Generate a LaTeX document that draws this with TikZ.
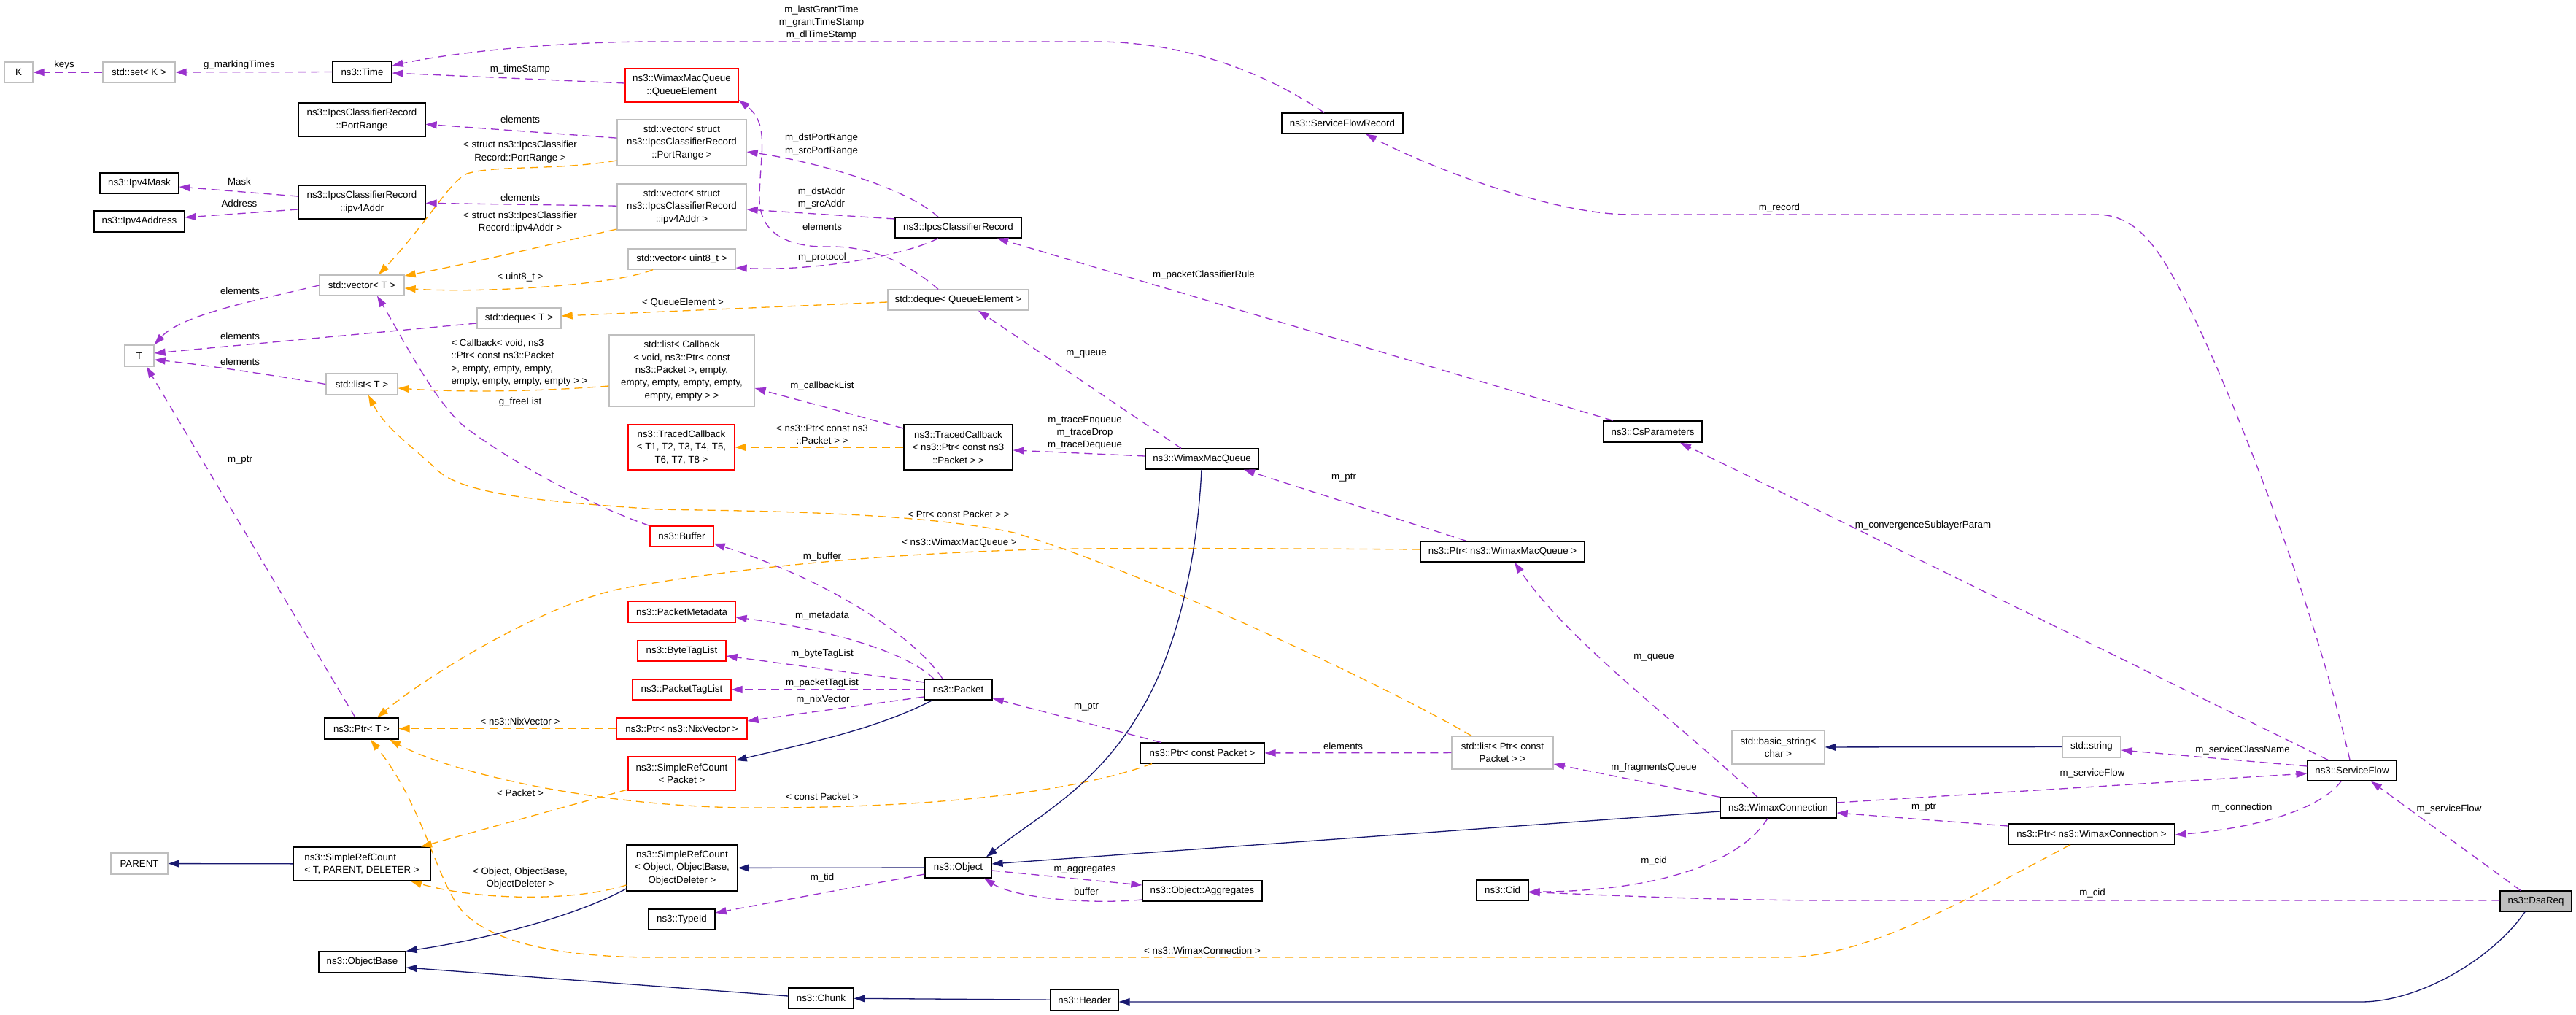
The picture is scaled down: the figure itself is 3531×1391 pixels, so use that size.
\documentclass[tikz,border=0pt]{standalone}
\usepackage{fontspec}
\setmainfont{Liberation Sans}
\usetikzlibrary{arrows.meta,calc}
\definecolor{purp}{HTML}{9A32CD}
\definecolor{orng}{HTML}{FFA500}
\definecolor{mblue}{HTML}{191970}
\definecolor{grey75}{HTML}{BFBFBF}
\newcommand\fsz{\fontsize{13.3}{17.3}\selectfont}
\tikzset{
  box/.style={rectangle, inner sep=0pt, line width=1.3pt, align=center, font=\fsz, fill=white},
  cls/.style={box, draw=black},
  ext/.style={box, draw=grey75},
  trunc/.style={box, draw=red},
  sz/.style 2 args={minimum width=#1pt, minimum height=#2pt},
  lbl/.style={font=\fsz, inner sep=0pt, align=center},
  tipA/.style={-{Triangle[length=15pt,width=10pt]}},
  use/.style={draw=purp, line width=1.3pt, dash pattern=on 11pt off 7pt, tipA},
  tmpl/.style={draw=orng, line width=1.3pt, dash pattern=on 11pt off 7pt, tipA},
  inh/.style={draw=mblue, line width=1.3pt, tipA},
}
\begin{document}
\begin{tikzpicture}[x=1pt,y=-1pt]
\useasboundingbox[fill=white] (0,0) rectangle (3531,1391);
% ---------------- nodes ----------------
\node[ext, sz={39}{28}] (K) at (25.5,99) {K};
\node[ext, sz={99}{28}] (setK) at (190.5,99) {std::set< K >};
\node[cls, sz={81}{29}] (Time) at (496.5,98.5) {ns3::Time};
\node[cls, sz={174}{46}] (PortRange) at (496,164) {ns3::IpcsClassifierRecord\\::PortRange};
\node[cls, sz={108}{28}] (Mask) at (191,251) {ns3::Ipv4Mask};
\node[cls, sz={124}{29}] (Addr) at (191,303.5) {ns3::Ipv4Address};
\node[cls, sz={174}{46}] (IA) at (496,277) {ns3::IpcsClassifierRecord\\::ipv4Addr};
\node[ext, sz={116}{28}] (vecT) at (496,391) {std::vector< T >};
\node[ext, sz={115}{28}] (dqT) at (711.5,436) {std::deque< T >};
\node[trunc, sz={155}{46}] (QE) at (934.5,117) {ns3::WimaxMacQueue\\::QueueElement};
\node[ext, sz={177}{63}] (vecPR) at (934.5,195.5) {std::vector< struct\\ns3::IpcsClassifierRecord\\::PortRange >};
\node[ext, sz={177}{63}] (vecIA) at (934.5,283.5) {std::vector< struct\\ns3::IpcsClassifierRecord\\::ipv4Addr >};
\node[ext, sz={147}{28}] (vecU8) at (934.5,355) {std::vector< uint8\_t >};
\node[cls, sz={173}{28}] (ICR) at (1313.5,312) {ns3::IpcsClassifierRecord};
\node[ext, sz={193}{28}] (dqQE) at (1313.5,411) {std::deque< QueueElement >};
\node[ext, sz={199}{98}] (listCB) at (934.5,508) {std::list< Callback\\< void, ns3::Ptr< const\\ns3::Packet >, empty,\\empty, empty, empty, empty,\\empty, empty > >};
\node[cls, sz={166}{28}] (SFR) at (1840,169) {ns3::ServiceFlowRecord};
\node[trunc, sz={146}{62}] (TCT) at (934,613) {ns3::TracedCallback\\< T1, T2, T3, T4, T5,\\T6, T7, T8 >};
\node[cls, sz={149}{62}] (TCP) at (1313.5,613) {ns3::TracedCallback\\< ns3::Ptr< const ns3\\::Packet > >};
\node[cls, sz={155}{28}] (WMQ) at (1647.5,629) {ns3::WimaxMacQueue};
\node[trunc, sz={87}{28}] (Buffer) at (934.5,735) {ns3::Buffer};
\node[trunc, sz={147}{29}] (PMD) at (934.5,838.5) {ns3::PacketMetadata};
\node[trunc, sz={121}{28}] (BTL) at (934.5,892) {ns3::ByteTagList};
\node[cls, sz={135}{29}] (CsP) at (2265.5,591.5) {ns3::CsParameters};
\node[cls, sz={225}{28}] (PtrWMQ) at (2059.5,756) {ns3::Ptr< ns3::WimaxMacQueue >};
\node[ext, sz={40}{29}] (T) at (191,487.5) {T};
\node[ext, sz={98}{29}] (listT) at (496,526.5) {std::list< T >};
\node[cls, sz={101}{29}] (PtrT) at (495.5,998.5) {ns3::Ptr< T >};
\node[ext, sz={78}{29}] (PARENT) at (191,1183.5) {PARENT};
\node[cls, sz={188}{46}, align=left] (SRCT) at (496,1184) {ns3::SimpleRefCount\\< T, PARENT, DELETER >};
\node[cls, sz={119}{29}] (OB) at (496.5,1318.5) {ns3::ObjectBase};
\node[trunc, sz={135}{28}] (PTL) at (934.5,945) {ns3::PacketTagList};
\node[trunc, sz={179}{29}] (PtrNix) at (934.5,998.5) {ns3::Ptr< ns3::NixVector >};
\node[trunc, sz={147}{46}] (SRCPk) at (934.5,1060) {ns3::SimpleRefCount\\< Packet >};
\node[cls, sz={93}{28}] (Packet) at (1313.5,945) {ns3::Packet};
\node[cls, sz={170}{28}] (PtrCP) at (1648,1032) {ns3::Ptr< const Packet >};
\node[cls, sz={152}{63}] (SRCObj) at (935,1189.5) {ns3::SimpleRefCount\\< Object, ObjectBase,\\ObjectDeleter >};
\node[cls, sz={91}{28}] (Obj) at (1313.5,1189) {ns3::Object};
\node[cls, sz={164}{28}] (Agg) at (1648,1221) {ns3::Object::Aggregates};
\node[cls, sz={91}{28}] (TypeId) at (934.5,1260) {ns3::TypeId};
\node[cls, sz={89}{28}] (Chunk) at (1125.5,1368) {ns3::Chunk};
\node[cls, sz={93}{29}] (Header) at (1486.5,1370.5) {ns3::Header};
\node[ext, sz={139}{45}] (listPCP) at (2059.5,1031.5) {std::list< Ptr< const\\Packet > >};
\node[ext, sz={127}{46}] (bstr) at (2437.5,1024) {std::basic\_string<\\char >};
\node[cls, sz={159}{28}] (WC) at (2437.5,1107) {ns3::WimaxConnection};
\node[cls, sz={71}{28}] (Cid) at (2059.5,1220) {ns3::Cid};
\node[ext, sz={80}{29}] (str) at (2867,1023.5) {std::string};
\node[cls, sz={122}{28}] (SF) at (3224,1056) {ns3::ServiceFlow};
\node[cls, sz={228}{28}] (PtrWC) at (2867,1143) {ns3::Ptr< ns3::WimaxConnection >};
\node[cls, sz={98}{28}, fill=grey75] (DsaReq) at (3476,1235) {ns3::DsaReq};
% ---------------- edges ----------------
\draw[use] (setK) -- (K);
\draw[use] (Time) -- (setK);
\draw[use] (SFR.north -| 1815,0) .. controls (1750,110) and (1640,57) .. (1500,57) -- (900,57) .. controls (760,57) and (620,72) .. (Time.east |- 0,90);
\draw[use] (QE.west |- 0,114) -- (Time.east |- 0,100);
\draw[use] (vecPR) -- (PortRange);
\draw[tmpl] (vecPR.west |- 0,220) .. controls (760,234) and (680,226) .. (640,238) .. controls (615,250) and (590,300) .. (vecT.north -| 519,0);
\draw[use] (vecIA) -- (IA);
\draw[tmpl] (vecIA.west |- 0,314) .. controls (746,337) and (640,362) .. (vecT.east |- 0,378);
\draw[use] (IA.west |- 0,269) -- (Mask.east |- 0,256);
\draw[use] (IA.west |- 0,287) -- (Addr.east |- 0,298);
\draw[tmpl] (vecU8.south -| 895,0) .. controls (840,392) and (650,402) .. (vecT.east |- 0,395);
\draw[use] (vecT.west) .. controls (360,410) and (250,430) .. (T.north east);
\draw[use] (dqT.west |- 0,443) -- (T.east |- 0,484);
\draw[use] (listT.west) .. controls (380,515) and (280,500) .. (T.east |- 0,493);
\draw[use] (PtrT.north -| 487,0) -- (T.south -| 201,0);
\draw[tmpl] (dqQE.west |- 0,414) -- (dqT.east |- 0,433);
\draw[use] (dqQE.north -| 1286,0) .. controls (1250,365) and (1200,338) .. (1140,338) .. controls (1080,340) and (1040,320) .. (1041,270) .. controls (1042,210) and (1055,170) .. (QE.east |- 0,137);
\draw[use] (ICR.north -| 1286,0) .. controls (1240,255) and (1110,220) .. (vecPR.east |- 0,208);
\draw[use] (ICR.west |- 0,300) -- (vecIA.east |- 0,287);
\draw[use] (ICR.south -| 1286,0) .. controls (1240,350) and (1120,372) .. (vecU8.east |- 0,367);
\draw[use] (CsP.north -| 2211,0) -- (ICR.south -| 1367,0);
\draw[use] (WMQ.north -| 1619,0) -- (dqQE.south -| 1341,0);
\draw[use] (TCP.west |- 0,587) -- (listCB.east |- 0,532);
\draw[tmpl] (TCP) -- (TCT);
\draw[use] (WMQ.west |- 0,625) -- (TCP.east |- 0,617);
\draw[tmpl] (listCB.west |- 0,529) .. controls (720,538) and (620,537) .. (listT.east |- 0,532);
\draw[tmpl] (listPCP.north -| 2017,0) .. controls (1900,940) and (1560,780) .. (1390,730) .. controls (1250,700) and (1000,700) .. (900,698) .. controls (760,688) and (640,680) .. (600,645) .. controls (570,615) and (530,590) .. (listT.south -| 505,0);
\draw[tmpl] (PtrWMQ.west |- 0,753) .. controls (1800,752) and (1600,751) .. (1481,752) .. controls (1300,754) and (1050,770) .. (850,807) .. controls (740,830) and (580,930) .. (PtrT.north -| 517,0);
\draw[use] (PtrWMQ.north -| 2010,0) -- (WMQ.south -| 1705,0);
\draw[use] (Buffer.north west) .. controls (800,690) and (680,620) .. (631,580) .. controls (590,540) and (550,460) .. (vecT.south -| 517,0);
\draw[use] (Packet.north -| 1292,0) .. controls (1260,880) and (1150,800) .. (Buffer.east |- 0,745);
\draw[use] (Packet.north -| 1280,0) .. controls (1240,890) and (1120,860) .. (PMD.east |- 0,846);
\draw[use] (Packet.west |- 0,935) -- (BTL.east |- 0,899);
\draw[use] (Packet) -- (PTL);
\draw[use] (Packet.west |- 0,955) -- (PtrNix.east |- 0,988);
\draw[tmpl] (PtrNix) -- (PtrT);
\draw[inh] (Packet.south -| 1278,0) .. controls (1200,1000) and (1100,1020) .. (SRCPk.east |- 0,1042);
\draw[tmpl] (SRCPk.west |- 0,1082) -- (SRCT.north -| 577,0);
\draw[tmpl] (PtrCP.south -| 1579,0) .. controls (1460,1090) and (1250,1108) .. (1022,1107) .. controls (820,1105) and (620,1060) .. (PtrT.south -| 534,0);
\draw[use] (PtrCP.north -| 1591,0) -- (Packet.east |- 0,957);
\draw[use] (listPCP) -- (PtrCP);
\draw[tmpl] (SRCObj.west |- 0,1213) .. controls (790,1235) and (660,1235) .. (SRCT.south -| 563,0);
\draw[inh] (SRCT) -- (PARENT);
\draw[inh] (SRCObj.west |- 0,1218) .. controls (780,1260) and (650,1290) .. (OB.north east);
\draw[inh] (Obj) -- (SRCObj);
\draw[use] (Obj.west |- 0,1198) -- (TypeId.east |- 0,1251);
\draw[use] (Obj.east |- 0,1193) -- (Agg.west |- 0,1213);
\draw[use] (Agg.west |- 0,1233) .. controls (1490,1240) and (1390,1230) .. (Obj.south -| 1349,0);
\draw[inh] (WMQ.south -| 1647,0) .. controls (1640,780) and (1610,900) .. (1560,980) .. controls (1500,1080) and (1420,1120) .. (Obj.north -| 1352,0);
\draw[inh] (WC.west |- 0,1112) -- (Obj.east |- 0,1184);
\draw[inh] (Chunk.west |- 0,1365) -- (OB.east |- 0,1326);
\draw[inh] (Header) -- (Chunk);
\draw[inh] (DsaReq.south -| 3461,0) .. controls (3420,1310) and (3320,1373) .. (3236,1373) -- (Header.east |- 0,1373);
\draw[use] (DsaReq.west |- 0,1234) -- (2500,1234) .. controls (2300,1233) and (2150,1224) .. (Cid.east |- 0,1223);
\draw[use] (WC.south -| 2423,0) .. controls (2380,1190) and (2250,1222) .. (Cid.east |- 0,1222);
\draw[use] (WC.north west) -- (listPCP.east |- 0,1047);
\draw[use] (WC.north -| 2409,0) .. controls (2300,990) and (2150,880) .. (PtrWMQ.south -| 2076,0);
\draw[inh] (str) -- (bstr);
\draw[use] (SF.west |- 0,1050) -- (str.east |- 0,1028);
\draw[use] (WC.east |- 0,1100) -- (SF.west |- 0,1060);
\draw[use] (SF.south -| 3209,0) .. controls (3180,1110) and (3090,1135) .. (PtrWC.east |- 0,1144);
\draw[use] (PtrWC.west |- 0,1132) -- (WC.east |- 0,1114);
\draw[tmpl] (PtrWC.south -| 2838,0) .. controls (2700,1230) and (2560,1312) .. (2446,1312) -- (900,1312) .. controls (760,1312) and (680,1290) .. (640,1255) .. controls (600,1220) and (585,1110) .. (PtrT.south -| 508,0);
\draw[use] (SF.north -| 3191,0) -- (CsP.south -| 2303,0);
\draw[use] (SF.north -| 3221,0) .. controls (3170,820) and (3060,540) .. (3000,420) .. controls (2960,340) and (2930,294) .. (2873,294) -- (2234,294) .. controls (2130,294) and (1960,230) .. (SFR.south -| 1872,0);
\draw[use] (DsaReq.north -| 3455,0) -- (SF.south -| 3250,0);
% ---------------- labels ----------------
\node[lbl] (l01) at (88,89) {keys};
\node[lbl] (l02) at (328,89) {g\_markingTimes};
\node[lbl] (l03) at (1126,31) {m\_lastGrantTime\\m\_grantTimeStamp\\m\_dlTimeStamp};
\node[lbl] (l04) at (713,95) {m\_timeStamp};
\node[lbl] (l05) at (713,164) {elements};
\node[lbl] (l06) at (713,208) {< struct ns3::IpcsClassifier\\Record::PortRange >};
\node[lbl] (l07) at (328,249) {Mask};
\node[lbl] (l08) at (328,279) {Address};
\node[lbl] (l09) at (713,271) {elements};
\node[lbl] (l10) at (713,304.5) {< struct ns3::IpcsClassifier\\Record::ipv4Addr >};
\node[lbl] (l11) at (329,399) {elements};
\node[lbl] (l12) at (713,380) {< uint8\_t >};
\node[lbl] (l13) at (936,415) {< QueueElement >};
\node[lbl] (l14) at (1126,198) {m\_dstPortRange\\m\_srcPortRange};
\node[lbl] (l15) at (1126,271.5) {m\_dstAddr\\m\_srcAddr};
\node[lbl] (l16) at (1127,311) {elements};
\node[lbl] (l17) at (1127,353) {m\_protocol};
\node[lbl] (l18) at (1650,377) {m\_packetClassifierRule};
\node[lbl] (l19) at (2439,285) {m\_record};
\node[lbl] (l20) at (329,461) {elements};
\node[lbl] (l21) at (329,496) {elements};
\node[lbl, align=left] (l22) at (712,497) {< Callback< void, ns3\\::Ptr< const ns3::Packet\\>, empty, empty, empty,\\empty, empty, empty, empty > >};
\node[lbl] (l23) at (713,551) {g\_freeList};
\node[lbl] (l24) at (329,631) {m\_ptr};
\node[lbl] (l25) at (1489,485) {m\_queue};
\node[lbl] (l26) at (1127,529) {m\_callbackList};
\node[lbl] (l27) at (1127,595.5) {< ns3::Ptr< const ns3\\::Packet > >};
\node[lbl] (l28) at (1487,593.5) {m\_traceEnqueue\\m\_traceDrop\\m\_traceDequeue};
\node[lbl] (l29) at (1314,705) {< Ptr< const Packet > >};
\node[lbl] (l30) at (1315,744) {< ns3::WimaxMacQueue >};
\node[lbl] (l31) at (1127,763) {m\_buffer};
\node[lbl] (l32) at (1127,844) {m\_metadata};
\node[lbl] (l33) at (1127,896) {m\_byteTagList};
\node[lbl] (l34) at (1842,655) {m\_ptr};
\node[lbl] (l35) at (2267,901) {m\_queue};
\node[lbl] (l36) at (2636,720) {m\_convergenceSublayerParam};
\node[lbl] (l37) at (713,989) {< ns3::NixVector >};
\node[lbl] (l38) at (713,1087) {< Packet >};
\node[lbl] (l39) at (713,1203.5) {< Object, ObjectBase,\\ObjectDeleter >};
\node[lbl] (l40) at (1127,936) {m\_packetTagList};
\node[lbl] (l41) at (1128,959) {m\_nixVector};
\node[lbl] (l42) at (1489,969) {m\_ptr};
\node[lbl] (l43) at (1127,1092) {< const Packet >};
\node[lbl] (l44) at (1127,1203) {m\_tid};
\node[lbl] (l45) at (1487,1192) {m\_aggregates};
\node[lbl] (l46) at (1489,1222) {buffer};
\node[lbl] (l47) at (1648,1303) {< ns3::WimaxConnection >};
\node[lbl] (l48) at (1841,1023) {elements};
\node[lbl] (l49) at (2267,1052) {m\_fragmentsQueue};
\node[lbl] (l50) at (2267,1180) {m\_cid};
\node[lbl] (l51) at (3074,1028) {m\_serviceClassName};
\node[lbl] (l52) at (2868,1060) {m\_serviceFlow};
\node[lbl] (l53) at (2637,1107) {m\_ptr};
\node[lbl] (l54) at (3073,1107) {m\_connection};
\node[lbl] (l55) at (3357,1109) {m\_serviceFlow};
\node[lbl] (l56) at (2868,1224) {m\_cid};
\end{tikzpicture}
\end{document}
